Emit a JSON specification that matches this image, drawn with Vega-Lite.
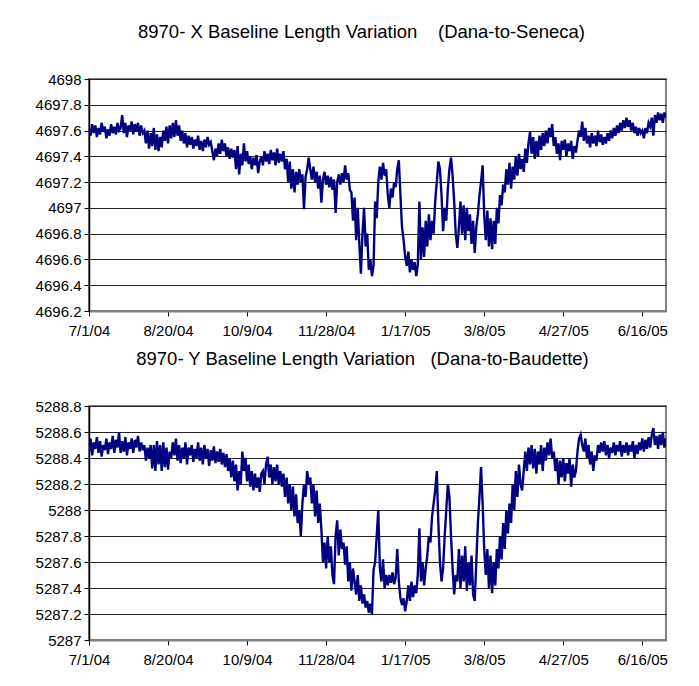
{
  "$schema": "https://vega.github.io/schema/vega-lite/v6.json",
  "padding": {"left": 34, "top": 21, "right": 0, "bottom": 0},
  "background": "white",
  "config": {
    "font": "Liberation Sans",
    "view": {"stroke": "#808080", "strokeWidth": 2},
    "axis": {"labelFont": "Liberation Sans", "labelFontSize": 15, "labelColor": "#000", "tickColor": "#000", "tickSize": 5, "domainColor": "#000", "title": null},
    "title": {"font": "Liberation Sans", "fontSize": 18.5, "fontWeight": "normal", "color": "#000"},
    "concat": {"spacing": 9}
  },
  "data": {"values": [
    {"date":"2004/07/01","x":4697.6,"y":5288.45},{"date":"2004/07/02","x":4697.56,"y":5288.55},{"date":"2004/07/03","x":4697.65,"y":5288.42},{"date":"2004/07/04","x":4697.58,"y":5288.52},{"date":"2004/07/05","x":4697.64,"y":5288.47},{"date":"2004/07/06","x":4697.55,"y":5288.56},{"date":"2004/07/07","x":4697.62,"y":5288.44},{"date":"2004/07/08","x":4697.57,"y":5288.53},{"date":"2004/07/09","x":4697.66,"y":5288.41},{"date":"2004/07/10","x":4697.59,"y":5288.5},
    {"date":"2004/07/11","x":4697.63,"y":5288.46},{"date":"2004/07/12","x":4697.54,"y":5288.55},{"date":"2004/07/13","x":4697.61,"y":5288.43},{"date":"2004/07/14","x":4697.56,"y":5288.52},{"date":"2004/07/15","x":4697.65,"y":5288.47},{"date":"2004/07/16","x":4697.58,"y":5288.57},{"date":"2004/07/17","x":4697.63,"y":5288.44},{"date":"2004/07/18","x":4697.57,"y":5288.54},{"date":"2004/07/19","x":4697.66,"y":5288.48},{"date":"2004/07/20","x":4697.6,"y":5288.6},
    {"date":"2004/07/21","x":4697.62,"y":5288.44},{"date":"2004/07/22","x":4697.72,"y":5288.53},{"date":"2004/07/23","x":4697.58,"y":5288.45},{"date":"2004/07/24","x":4697.66,"y":5288.56},{"date":"2004/07/25","x":4697.55,"y":5288.42},{"date":"2004/07/26","x":4697.64,"y":5288.52},{"date":"2004/07/27","x":4697.6,"y":5288.47},{"date":"2004/07/28","x":4697.67,"y":5288.55},{"date":"2004/07/29","x":4697.57,"y":5288.44},{"date":"2004/07/30","x":4697.65,"y":5288.54},{"date":"2004/07/31","x":4697.59,"y":5288.48},
    {"date":"2004/08/01","x":4697.66,"y":5288.57},{"date":"2004/08/02","x":4697.56,"y":5288.45},{"date":"2004/08/03","x":4697.64,"y":5288.52},{"date":"2004/08/04","x":4697.58,"y":5288.46},{"date":"2004/08/05","x":4697.6,"y":5288.5},{"date":"2004/08/06","x":4697.5,"y":5288.38},{"date":"2004/08/07","x":4697.6,"y":5288.48},{"date":"2004/08/08","x":4697.46,"y":5288.4},{"date":"2004/08/09","x":4697.58,"y":5288.5},{"date":"2004/08/10","x":4697.48,"y":5288.32},
    {"date":"2004/08/11","x":4697.62,"y":5288.5},{"date":"2004/08/12","x":4697.45,"y":5288.3},{"date":"2004/08/13","x":4697.57,"y":5288.53},{"date":"2004/08/14","x":4697.44,"y":5288.35},{"date":"2004/08/15","x":4697.55,"y":5288.5},{"date":"2004/08/16","x":4697.47,"y":5288.3},{"date":"2004/08/17","x":4697.6,"y":5288.52},{"date":"2004/08/18","x":4697.52,"y":5288.33},{"date":"2004/08/19","x":4697.63,"y":5288.48},{"date":"2004/08/20","x":4697.5,"y":5288.31},
    {"date":"2004/08/21","x":4697.64,"y":5288.45},{"date":"2004/08/22","x":4697.54,"y":5288.4},{"date":"2004/08/23","x":4697.66,"y":5288.52},{"date":"2004/08/24","x":4697.55,"y":5288.42},{"date":"2004/08/25","x":4697.68,"y":5288.55},{"date":"2004/08/26","x":4697.56,"y":5288.38},{"date":"2004/08/27","x":4697.64,"y":5288.5},{"date":"2004/08/28","x":4697.52,"y":5288.36},{"date":"2004/08/29","x":4697.6,"y":5288.48},{"date":"2004/08/30","x":4697.5,"y":5288.4},{"date":"2004/08/31","x":4697.58,"y":5288.52},
    {"date":"2004/09/01","x":4697.47,"y":5288.35},{"date":"2004/09/02","x":4697.56,"y":5288.48},{"date":"2004/09/03","x":4697.49,"y":5288.42},{"date":"2004/09/04","x":4697.55,"y":5288.5},{"date":"2004/09/05","x":4697.46,"y":5288.37},{"date":"2004/09/06","x":4697.53,"y":5288.47},{"date":"2004/09/07","x":4697.48,"y":5288.4},{"date":"2004/09/08","x":4697.56,"y":5288.52},{"date":"2004/09/09","x":4697.45,"y":5288.38},{"date":"2004/09/10","x":4697.52,"y":5288.48},
    {"date":"2004/09/11","x":4697.44,"y":5288.35},{"date":"2004/09/12","x":4697.53,"y":5288.5},{"date":"2004/09/13","x":4697.47,"y":5288.4},{"date":"2004/09/14","x":4697.55,"y":5288.47},{"date":"2004/09/15","x":4697.49,"y":5288.34},{"date":"2004/09/16","x":4697.51,"y":5288.46},{"date":"2004/09/17","x":4697.44,"y":5288.38},{"date":"2004/09/18","x":4697.37,"y":5288.49},{"date":"2004/09/19","x":4697.46,"y":5288.36},{"date":"2004/09/20","x":4697.4,"y":5288.45},
    {"date":"2004/09/21","x":4697.5,"y":5288.37},{"date":"2004/09/22","x":4697.42,"y":5288.47},{"date":"2004/09/23","x":4697.53,"y":5288.35},{"date":"2004/09/24","x":4697.44,"y":5288.44},{"date":"2004/09/25","x":4697.5,"y":5288.33},{"date":"2004/09/26","x":4697.4,"y":5288.43},{"date":"2004/09/27","x":4697.47,"y":5288.3},{"date":"2004/09/28","x":4697.38,"y":5288.4},{"date":"2004/09/29","x":4697.46,"y":5288.25},{"date":"2004/09/30","x":4697.39,"y":5288.38},
    {"date":"2004/10/01","x":4697.45,"y":5288.22},{"date":"2004/10/02","x":4697.3,"y":5288.35},{"date":"2004/10/03","x":4697.48,"y":5288.15},{"date":"2004/10/04","x":4697.26,"y":5288.3},{"date":"2004/10/05","x":4697.42,"y":5288.2},{"date":"2004/10/06","x":4697.33,"y":5288.45},{"date":"2004/10/07","x":4697.5,"y":5288.3},{"date":"2004/10/08","x":4697.36,"y":5288.4},{"date":"2004/10/09","x":4697.44,"y":5288.22},{"date":"2004/10/10","x":4697.34,"y":5288.35},
    {"date":"2004/10/11","x":4697.4,"y":5288.18},{"date":"2004/10/12","x":4697.3,"y":5288.3},{"date":"2004/10/13","x":4697.39,"y":5288.15},{"date":"2004/10/14","x":4697.33,"y":5288.28},{"date":"2004/10/15","x":4697.41,"y":5288.17},{"date":"2004/10/16","x":4697.27,"y":5288.25},{"date":"2004/10/17","x":4697.36,"y":5288.14},{"date":"2004/10/18","x":4697.4,"y":5288.28},{"date":"2004/10/19","x":4697.33,"y":5288.3},{"date":"2004/10/20","x":4697.44,"y":5288.2},
    {"date":"2004/10/21","x":4697.36,"y":5288.35},{"date":"2004/10/22","x":4697.42,"y":5288.41},{"date":"2004/10/23","x":4697.34,"y":5288.25},{"date":"2004/10/24","x":4697.45,"y":5288.35},{"date":"2004/10/25","x":4697.37,"y":5288.2},{"date":"2004/10/26","x":4697.43,"y":5288.33},{"date":"2004/10/27","x":4697.33,"y":5288.22},{"date":"2004/10/28","x":4697.46,"y":5288.35},{"date":"2004/10/29","x":4697.35,"y":5288.2},{"date":"2004/10/30","x":4697.42,"y":5288.3},{"date":"2004/10/31","x":4697.36,"y":5288.18},
    {"date":"2004/11/01","x":4697.44,"y":5288.28},{"date":"2004/11/02","x":4697.3,"y":5288.1},{"date":"2004/11/03","x":4697.38,"y":5288.25},{"date":"2004/11/04","x":4697.2,"y":5288.05},{"date":"2004/11/05","x":4697.36,"y":5288.2},{"date":"2004/11/06","x":4697.15,"y":5288.0},{"date":"2004/11/07","x":4697.3,"y":5288.18},{"date":"2004/11/08","x":4697.12,"y":5287.95},{"date":"2004/11/09","x":4697.28,"y":5288.12},{"date":"2004/11/10","x":4697.18,"y":5287.9},
    {"date":"2004/11/11","x":4697.3,"y":5288.0},{"date":"2004/11/12","x":4697.2,"y":5287.8},{"date":"2004/11/13","x":4697.26,"y":5288.05},{"date":"2004/11/14","x":4696.99,"y":5288.2},{"date":"2004/11/15","x":4697.24,"y":5288.1},{"date":"2004/11/16","x":4697.3,"y":5288.3},{"date":"2004/11/17","x":4697.39,"y":5288.2},{"date":"2004/11/18","x":4697.3,"y":5288.25},{"date":"2004/11/19","x":4697.22,"y":5288.05},{"date":"2004/11/20","x":4697.32,"y":5288.2},
    {"date":"2004/11/21","x":4697.2,"y":5287.95},{"date":"2004/11/22","x":4697.28,"y":5288.15},{"date":"2004/11/23","x":4697.15,"y":5287.9},{"date":"2004/11/24","x":4697.25,"y":5288.05},{"date":"2004/11/25","x":4697.04,"y":5287.85},{"date":"2004/11/26","x":4697.22,"y":5287.6},{"date":"2004/11/27","x":4697.28,"y":5287.75},{"date":"2004/11/28","x":4697.18,"y":5287.55},{"date":"2004/11/29","x":4697.25,"y":5287.8},{"date":"2004/11/30","x":4697.16,"y":5287.6},
    {"date":"2004/12/01","x":4697.24,"y":5287.72},{"date":"2004/12/02","x":4697.14,"y":5287.5},{"date":"2004/12/03","x":4697.22,"y":5287.43},{"date":"2004/12/04","x":4696.96,"y":5287.8},{"date":"2004/12/05","x":4697.2,"y":5287.92},{"date":"2004/12/06","x":4697.26,"y":5287.65},{"date":"2004/12/07","x":4697.18,"y":5287.85},{"date":"2004/12/08","x":4697.27,"y":5287.7},{"date":"2004/12/09","x":4697.2,"y":5287.75},{"date":"2004/12/10","x":4697.33,"y":5287.58},
    {"date":"2004/12/11","x":4697.22,"y":5287.72},{"date":"2004/12/12","x":4697.27,"y":5287.45},{"date":"2004/12/13","x":4697.14,"y":5287.6},{"date":"2004/12/14","x":4697.12,"y":5287.38},{"date":"2004/12/15","x":4696.9,"y":5287.55},{"date":"2004/12/16","x":4697.08,"y":5287.45},{"date":"2004/12/17","x":4696.75,"y":5287.35},{"date":"2004/12/18","x":4697.0,"y":5287.5},{"date":"2004/12/19","x":4696.72,"y":5287.3},{"date":"2004/12/20","x":4696.49,"y":5287.42},
    {"date":"2004/12/21","x":4696.8,"y":5287.28},{"date":"2004/12/22","x":4697.0,"y":5287.35},{"date":"2004/12/23","x":4696.7,"y":5287.25},{"date":"2004/12/24","x":4696.8,"y":5287.3},{"date":"2004/12/25","x":4696.52,"y":5287.21},{"date":"2004/12/26","x":4696.6,"y":5287.28},{"date":"2004/12/27","x":4696.47,"y":5287.2},{"date":"2004/12/28","x":4696.55,"y":5287.54},{"date":"2004/12/29","x":4697.05,"y":5287.6},{"date":"2004/12/30","x":4696.92,"y":5287.8},{"date":"2004/12/31","x":4697.2,"y":5288.0},
    {"date":"2005/01/01","x":4697.32,"y":5287.55},{"date":"2005/01/02","x":4697.22,"y":5287.45},{"date":"2005/01/03","x":4697.35,"y":5287.62},{"date":"2005/01/04","x":4697.25,"y":5287.4},{"date":"2005/01/05","x":4697.3,"y":5287.5},{"date":"2005/01/06","x":4697.1,"y":5287.42},{"date":"2005/01/07","x":4697.0,"y":5287.5},{"date":"2005/01/08","x":4697.15,"y":5287.44},{"date":"2005/01/09","x":4697.08,"y":5287.52},{"date":"2005/01/10","x":4697.2,"y":5287.43},
    {"date":"2005/01/11","x":4697.16,"y":5287.48},{"date":"2005/01/12","x":4697.3,"y":5287.7},{"date":"2005/01/13","x":4697.37,"y":5287.45},{"date":"2005/01/14","x":4697.1,"y":5287.32},{"date":"2005/01/15","x":4696.85,"y":5287.27},{"date":"2005/01/16","x":4696.75,"y":5287.32},{"date":"2005/01/17","x":4696.62,"y":5287.22},{"date":"2005/01/18","x":4696.55,"y":5287.3},{"date":"2005/01/19","x":4696.66,"y":5287.42},{"date":"2005/01/20","x":4696.5,"y":5287.3},
    {"date":"2005/01/21","x":4696.6,"y":5287.45},{"date":"2005/01/22","x":4696.52,"y":5287.33},{"date":"2005/01/23","x":4696.58,"y":5287.42},{"date":"2005/01/24","x":4696.47,"y":5287.36},{"date":"2005/01/25","x":4696.56,"y":5287.5},{"date":"2005/01/26","x":4697.05,"y":5287.86},{"date":"2005/01/27","x":4696.6,"y":5287.45},{"date":"2005/01/28","x":4696.85,"y":5287.6},{"date":"2005/01/29","x":4696.62,"y":5287.42},{"date":"2005/01/30","x":4696.9,"y":5287.55},{"date":"2005/01/31","x":4696.7,"y":5287.65},
    {"date":"2005/02/01","x":4696.95,"y":5287.8},{"date":"2005/02/02","x":4696.75,"y":5287.75},{"date":"2005/02/03","x":4696.9,"y":5287.95},{"date":"2005/02/04","x":4696.8,"y":5288.05},{"date":"2005/02/05","x":4697.05,"y":5288.15},{"date":"2005/02/06","x":4697.2,"y":5288.3},{"date":"2005/02/07","x":4697.36,"y":5287.9},{"date":"2005/02/08","x":4697.3,"y":5287.6},{"date":"2005/02/09","x":4697.1,"y":5287.45},{"date":"2005/02/10","x":4696.82,"y":5287.55},
    {"date":"2005/02/11","x":4697.0,"y":5287.8},{"date":"2005/02/12","x":4696.9,"y":5288.0},{"date":"2005/02/13","x":4697.15,"y":5288.2},{"date":"2005/02/14","x":4697.3,"y":5288.1},{"date":"2005/02/15","x":4697.39,"y":5287.8},{"date":"2005/02/16","x":4697.25,"y":5287.55},{"date":"2005/02/17","x":4697.05,"y":5287.35},{"date":"2005/02/18","x":4696.8,"y":5287.5},{"date":"2005/02/19","x":4696.69,"y":5287.45},{"date":"2005/02/20","x":4696.85,"y":5287.7},
    {"date":"2005/02/21","x":4697.05,"y":5287.4},{"date":"2005/02/22","x":4696.8,"y":5287.65},{"date":"2005/02/23","x":4697.02,"y":5287.45},{"date":"2005/02/24","x":4696.75,"y":5287.72},{"date":"2005/02/25","x":4697.0,"y":5287.38},{"date":"2005/02/26","x":4696.82,"y":5287.6},{"date":"2005/02/27","x":4696.95,"y":5287.42},{"date":"2005/02/28","x":4696.72,"y":5287.65},
    {"date":"2005/03/01","x":4696.9,"y":5287.35},{"date":"2005/03/02","x":4696.65,"y":5287.3},{"date":"2005/03/03","x":4696.85,"y":5287.6},{"date":"2005/03/04","x":4696.95,"y":5287.9},{"date":"2005/03/05","x":4697.1,"y":5288.1},{"date":"2005/03/06","x":4697.2,"y":5288.33},{"date":"2005/03/07","x":4697.33,"y":5288.05},{"date":"2005/03/08","x":4696.95,"y":5287.7},{"date":"2005/03/09","x":4696.75,"y":5287.5},{"date":"2005/03/10","x":4696.98,"y":5287.7},
    {"date":"2005/03/11","x":4696.7,"y":5287.4},{"date":"2005/03/12","x":4696.92,"y":5287.65},{"date":"2005/03/13","x":4696.68,"y":5287.36},{"date":"2005/03/14","x":4696.9,"y":5287.6},{"date":"2005/03/15","x":4696.72,"y":5287.42},{"date":"2005/03/16","x":4697.0,"y":5287.7},{"date":"2005/03/17","x":4696.88,"y":5287.55},{"date":"2005/03/18","x":4697.1,"y":5287.8},{"date":"2005/03/19","x":4697.02,"y":5287.62},{"date":"2005/03/20","x":4697.18,"y":5287.9},
    {"date":"2005/03/21","x":4697.12,"y":5287.7},{"date":"2005/03/22","x":4697.3,"y":5288.0},{"date":"2005/03/23","x":4697.18,"y":5287.82},{"date":"2005/03/24","x":4697.35,"y":5288.05},{"date":"2005/03/25","x":4697.15,"y":5287.9},{"date":"2005/03/26","x":4697.32,"y":5288.2},{"date":"2005/03/27","x":4697.22,"y":5288.0},{"date":"2005/03/28","x":4697.4,"y":5288.3},{"date":"2005/03/29","x":4697.25,"y":5288.1},{"date":"2005/03/30","x":4697.42,"y":5288.35},{"date":"2005/03/31","x":4697.3,"y":5288.2},
    {"date":"2005/04/01","x":4697.38,"y":5288.15},{"date":"2005/04/02","x":4697.28,"y":5288.3},{"date":"2005/04/03","x":4697.46,"y":5288.45},{"date":"2005/04/04","x":4697.35,"y":5288.3},{"date":"2005/04/05","x":4697.5,"y":5288.48},{"date":"2005/04/06","x":4697.59,"y":5288.35},{"date":"2005/04/07","x":4697.42,"y":5288.5},{"date":"2005/04/08","x":4697.55,"y":5288.32},{"date":"2005/04/09","x":4697.38,"y":5288.47},{"date":"2005/04/10","x":4697.52,"y":5288.28},
    {"date":"2005/04/11","x":4697.4,"y":5288.45},{"date":"2005/04/12","x":4697.56,"y":5288.35},{"date":"2005/04/13","x":4697.45,"y":5288.5},{"date":"2005/04/14","x":4697.58,"y":5288.3},{"date":"2005/04/15","x":4697.48,"y":5288.48},{"date":"2005/04/16","x":4697.6,"y":5288.38},{"date":"2005/04/17","x":4697.5,"y":5288.52},{"date":"2005/04/18","x":4697.62,"y":5288.42},{"date":"2005/04/19","x":4697.55,"y":5288.55},{"date":"2005/04/20","x":4697.65,"y":5288.4},
    {"date":"2005/04/21","x":4697.48,"y":5288.45},{"date":"2005/04/22","x":4697.55,"y":5288.3},{"date":"2005/04/23","x":4697.42,"y":5288.4},{"date":"2005/04/24","x":4697.5,"y":5288.2},{"date":"2005/04/25","x":4697.37,"y":5288.38},{"date":"2005/04/26","x":4697.52,"y":5288.25},{"date":"2005/04/27","x":4697.45,"y":5288.4},{"date":"2005/04/28","x":4697.53,"y":5288.22},{"date":"2005/04/29","x":4697.4,"y":5288.36},{"date":"2005/04/30","x":4697.5,"y":5288.28},
    {"date":"2005/05/01","x":4697.44,"y":5288.4},{"date":"2005/05/02","x":4697.52,"y":5288.18},{"date":"2005/05/03","x":4697.38,"y":5288.35},{"date":"2005/05/04","x":4697.48,"y":5288.25},{"date":"2005/05/05","x":4697.43,"y":5288.3},{"date":"2005/05/06","x":4697.52,"y":5288.45},{"date":"2005/05/07","x":4697.6,"y":5288.55},{"date":"2005/05/08","x":4697.55,"y":5288.58},{"date":"2005/05/09","x":4697.67,"y":5288.5},{"date":"2005/05/10","x":4697.52,"y":5288.45},
    {"date":"2005/05/11","x":4697.62,"y":5288.55},{"date":"2005/05/12","x":4697.5,"y":5288.4},{"date":"2005/05/13","x":4697.56,"y":5288.5},{"date":"2005/05/14","x":4697.47,"y":5288.35},{"date":"2005/05/15","x":4697.58,"y":5288.45},{"date":"2005/05/16","x":4697.5,"y":5288.3},{"date":"2005/05/17","x":4697.56,"y":5288.42},{"date":"2005/05/18","x":4697.48,"y":5288.38},{"date":"2005/05/19","x":4697.6,"y":5288.5},{"date":"2005/05/20","x":4697.51,"y":5288.44},
    {"date":"2005/05/21","x":4697.57,"y":5288.52},{"date":"2005/05/22","x":4697.49,"y":5288.45},{"date":"2005/05/23","x":4697.55,"y":5288.53},{"date":"2005/05/24","x":4697.5,"y":5288.42},{"date":"2005/05/25","x":4697.58,"y":5288.5},{"date":"2005/05/26","x":4697.52,"y":5288.4},{"date":"2005/05/27","x":4697.6,"y":5288.48},{"date":"2005/05/28","x":4697.54,"y":5288.44},{"date":"2005/05/29","x":4697.62,"y":5288.52},{"date":"2005/05/30","x":4697.56,"y":5288.42},{"date":"2005/05/31","x":4697.64,"y":5288.5},
    {"date":"2005/06/01","x":4697.58,"y":5288.45},{"date":"2005/06/02","x":4697.66,"y":5288.53},{"date":"2005/06/03","x":4697.6,"y":5288.41},{"date":"2005/06/04","x":4697.68,"y":5288.5},{"date":"2005/06/05","x":4697.62,"y":5288.44},{"date":"2005/06/06","x":4697.7,"y":5288.52},{"date":"2005/06/07","x":4697.63,"y":5288.42},{"date":"2005/06/08","x":4697.68,"y":5288.5},{"date":"2005/06/09","x":4697.6,"y":5288.45},{"date":"2005/06/10","x":4697.66,"y":5288.53},
    {"date":"2005/06/11","x":4697.58,"y":5288.4},{"date":"2005/06/12","x":4697.63,"y":5288.5},{"date":"2005/06/13","x":4697.56,"y":5288.43},{"date":"2005/06/14","x":4697.62,"y":5288.52},{"date":"2005/06/15","x":4697.58,"y":5288.46},{"date":"2005/06/16","x":4697.6,"y":5288.55},{"date":"2005/06/17","x":4697.54,"y":5288.45},{"date":"2005/06/18","x":4697.62,"y":5288.54},{"date":"2005/06/19","x":4697.58,"y":5288.47},{"date":"2005/06/20","x":4697.66,"y":5288.56},
    {"date":"2005/06/21","x":4697.63,"y":5288.48},{"date":"2005/06/22","x":4697.7,"y":5288.58},{"date":"2005/06/23","x":4697.56,"y":5288.63},{"date":"2005/06/24","x":4697.72,"y":5288.5},{"date":"2005/06/25","x":4697.66,"y":5288.57},{"date":"2005/06/26","x":4697.74,"y":5288.47},{"date":"2005/06/27","x":4697.68,"y":5288.58},{"date":"2005/06/28","x":4697.73,"y":5288.5},{"date":"2005/06/29","x":4697.66,"y":5288.6},{"date":"2005/06/30","x":4697.74,"y":5288.48},
    {"date":"2005/07/01","x":4697.7,"y":5288.55}
  ]},
  "vconcat": [
    {
      "width": 577,
      "height": 232,
      "title": {"text": "8970- X Baseline Length Variation\u00a0\u00a0\u00a0\u00a0(Dana-to-Seneca)", "offset": 31, "dx": -16},
      "mark": {"type": "line", "color": "#000080", "strokeWidth": 2.4, "clip": true},
      "encoding": {
        "x": {
          "field": "date", "type": "temporal",
          "scale": {"domain": [{"year": 2004, "month": 7, "date": 1}, {"year": 2005, "month": 7, "date": 1}]},
          "axis": {"values": [{"year": 2004, "month": 7, "date": 1}, {"year": 2004, "month": 8, "date": 20}, {"year": 2004, "month": 10, "date": 9}, {"year": 2004, "month": 11, "date": 28}, {"year": 2005, "month": 1, "date": 17}, {"year": 2005, "month": 3, "date": 8}, {"year": 2005, "month": 4, "date": 27}, {"year": 2005, "month": 6, "date": 16}], "format": "%-m/%-d/%y", "labelPadding": 7, "domainColor": "#808080", "domainWidth": 2, "grid": false, "labelFlush": false, "labelOverlap": false}
        },
        "y": {
          "field": "x", "type": "quantitative",
          "scale": {"domain": [4696.2, 4698], "nice": false, "zero": false},
          "axis": {"values": [4696.2, 4696.4, 4696.6, 4696.8, 4697, 4697.2, 4697.4, 4697.6, 4697.8, 4698], "format": "~f", "grid": true, "gridColor": "#222", "gridWidth": 1.2, "labelPadding": 3, "domainWidth": 1.5}
        }
      }
    },
    {
      "width": 577,
      "height": 234,
      "title": {"text": "8970- Y Baseline Length Variation\u00a0\u00a0\u00a0(Dana-to-Baudette)", "offset": 31, "dx": -15},
      "mark": {"type": "line", "color": "#000080", "strokeWidth": 2.4, "clip": true},
      "encoding": {
        "x": {
          "field": "date", "type": "temporal",
          "scale": {"domain": [{"year": 2004, "month": 7, "date": 1}, {"year": 2005, "month": 7, "date": 1}]},
          "axis": {"values": [{"year": 2004, "month": 7, "date": 1}, {"year": 2004, "month": 8, "date": 20}, {"year": 2004, "month": 10, "date": 9}, {"year": 2004, "month": 11, "date": 28}, {"year": 2005, "month": 1, "date": 17}, {"year": 2005, "month": 3, "date": 8}, {"year": 2005, "month": 4, "date": 27}, {"year": 2005, "month": 6, "date": 16}], "format": "%-m/%-d/%y", "labelPadding": 7, "domainColor": "#808080", "domainWidth": 2, "grid": false, "labelFlush": false, "labelOverlap": false}
        },
        "y": {
          "field": "y", "type": "quantitative",
          "scale": {"domain": [5287, 5288.8], "nice": false, "zero": false},
          "axis": {"values": [5287, 5287.2, 5287.4, 5287.6, 5287.8, 5288, 5288.2, 5288.4, 5288.6, 5288.8], "format": "~f", "grid": true, "gridColor": "#222", "gridWidth": 1.2, "labelPadding": 3, "domainWidth": 1.5}
        }
      }
    }
  ]
}
